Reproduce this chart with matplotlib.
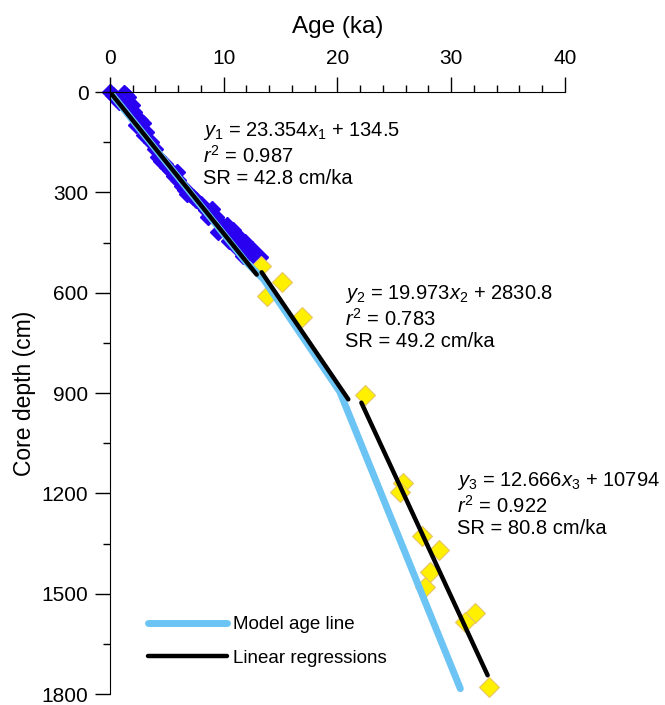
import numpy as np
import matplotlib.pyplot as plt
from matplotlib.ticker import MultipleLocator

plt.rcParams['font.family'] = ['Liberation Sans', 'DejaVu Sans']
plt.rcParams['mathtext.fontset'] = 'custom'
plt.rcParams['mathtext.rm'] = 'Liberation Sans'
plt.rcParams['mathtext.it'] = 'Liberation Sans:italic'

# dense dated samples (blue) - age ka, depth cm
blue_age = [0.0, 0.3, 1.2, 1.6, 1.9, 2.1, 2.6, 2.3, 3.2, 3.6, 4.0, 4.2, 4.5,
            5.0, 5.3, 5.6, 6.0, 6.3, 6.6, 7.0, 7.3, 7.6, 8.0, 8.4, 8.8,
            9.3, 9.5, 9.9, 10.3, 10.8, 11.1, 11.5, 11.9, 12.2, 12.5, 12.9, 13.2,
            0.8, 3.0, 4.8, 6.8, 8.6, 10.5, 11.7, 1.4, 2.9, 5.9, 9.0, 12.0]
blue_depth = [0, 8, 4, 14, 40, 60, 84, 99, 120, 150, 169, 194, 205,
              224, 234, 250, 262, 280, 292, 304, 315, 324, 335, 352, 365,
              374, 419, 400, 398, 414, 464, 440, 449, 479, 470, 500, 494,
              30, 130, 215, 305, 375, 445, 490, 10, 92, 240, 350, 455]

# sparse dated samples (yellow)
yel_age = [13.3, 15.1, 13.8, 16.85, 22.4, 25.8, 25.5, 27.4, 28.9, 28.1, 27.7,
           32.1, 31.2, 33.3]
yel_depth = [519, 569, 609, 674, 906, 1169, 1196, 1329, 1369, 1434, 1479,
             1559, 1584, 1779]

# model age line
model_age = [0.0, 12.0, 13.5, 20.2, 30.8]
model_depth = [0, 510, 560, 896, 1784]

# linear regression segments (start, end)
reg_age = [(0.0, 12.9), (13.33, 20.95), (22.1, 33.2)]
reg_depth = [(0, 546), (539, 919), (929, 1744)]

eq_text = [r'$y_1$ = 23.354$x_1$ + 134.5' + '\n' + r'$r^2$ = 0.987' + '\nSR = 42.8 cm/ka',
           r'$y_2$ = 19.973$x_2$ + 2830.8' + '\n' + r'$r^2$ = 0.783' + '\nSR = 49.2 cm/ka',
           r'$y_3$ = 12.666$x_3$ + 10794' + '\n' + r'$r^2$ = 0.922' + '\nSR = 80.8 cm/ka']
eq_pos = [(8.2, 186), (20.65, 672), (30.5, 1233)]

fig = plt.figure(figsize=(6.65, 7.05), dpi=100)
ax = fig.add_axes([0.1654, 0.0156, 0.6842, 0.8539])

ax.plot(blue_age, blue_depth, 'D', color='#2a00f0', ms=8.5, mec='#2a00f0',
        ls='none', clip_on=False, zorder=1)
ax.plot(yel_age, yel_depth, 'D', color='#fff000', mec='#e6c46a', mew=0.8,
        ms=10, ls='none', clip_on=False, zorder=1)
ax.plot(model_age, model_depth, color='#6cc4f4', lw=5, solid_capstyle='round',
        label='Model age line', zorder=2)
for i in range(3):
    ax.plot(reg_age[i], reg_depth[i], color='black', lw=3.2,
            solid_capstyle='round', zorder=4,
            label='Linear regressions' if i == 0 else None)

for (x, y), t in zip(eq_pos, eq_text):
    ax.text(x, y, t, fontsize=14.5, va='center', ha='left', linespacing=1.15)

ax.set_xlim(0, 40)
ax.set_ylim(1800, 0)
ax.xaxis.tick_top()
ax.xaxis.set_label_position('top')
ax.set_xticks([0, 10, 20, 30, 40])
ax.xaxis.set_minor_locator(MultipleLocator(2))
ax.set_yticks([0, 300, 600, 900, 1200, 1500, 1800])
ax.yaxis.set_minor_locator(MultipleLocator(150))
ax.tick_params(which='major', length=10.5, width=1, labelsize=15, pad=5)
ax.tick_params(axis='x', which='major', pad=7)
ax.tick_params(which='minor', length=5.3, width=1)
ax.spines['right'].set_visible(False)
ax.spines['bottom'].set_visible(False)
ax.set_xlabel('Age (ka)', fontsize=17.5, labelpad=11)
ax.set_ylabel('Core depth (cm)', fontsize=16.5, labelpad=4)

ax.legend(loc='upper left', bbox_to_anchor=(0.047, 0.157), frameon=False,
          fontsize=13.5, handlelength=4.2, handletextpad=0.3, labelspacing=0.85)

fig.savefig('out.png', dpi=100)
